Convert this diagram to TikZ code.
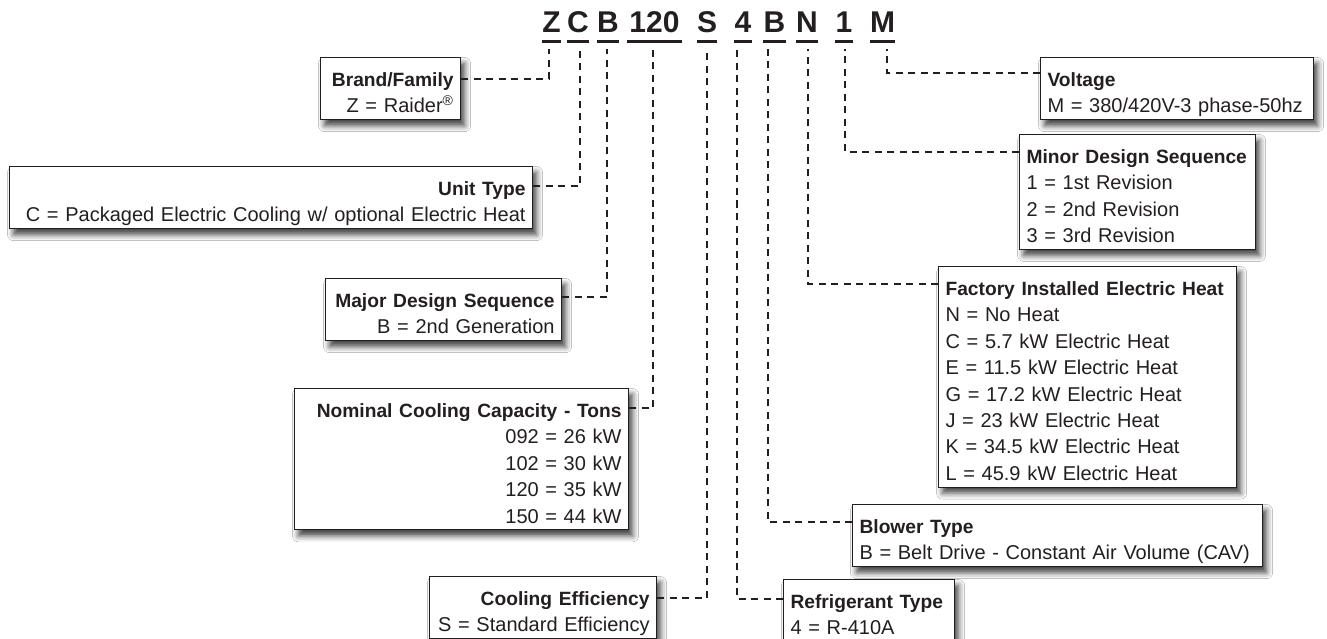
\documentclass[tikz,border=0pt]{standalone}
\usepackage{fontspec}
\setmainfont{Liberation Sans}
\usetikzlibrary{shadows.blur}
\definecolor{ink}{HTML}{231F20}
\newcommand\ttl[1]{\rule{0pt}{29pt}\mbox{\fontsize{19.2pt}{26.4pt}\selectfont\bfseries #1}}
\newcommand\lst{\rule[-6.7pt]{0pt}{0pt}}
\hyphenpenalty=10000
\begin{document}
\begin{tikzpicture}[x=1pt,y=-1pt,
  box/.style={draw=ink, line width=1.1pt, fill=white, inner xsep=7pt, inner ysep=0pt,
    anchor=north west, text=ink, font=\fontsize{20pt}{26.4pt}\selectfont,
    blur shadow={shadow xshift=4pt, shadow yshift=-6pt, shadow blur radius=6pt, shadow opacity=75}},
  conn/.style={draw=ink, line width=2.2pt, dash pattern=on 7pt off 5.5pt},
  code/.style={font=\fontsize{30pt}{30pt}\selectfont\bfseries, text=ink, inner xsep=0pt, inner ysep=0pt, anchor=base},
  uline/.style={draw=ink, line width=3pt}]
\useasboundingbox[fill=white] (0,0) rectangle (1327,639);

% code letters
\node[code, minimum width=17pt] (lZ) at (551.5,33) {Z};
\node[code, minimum width=18pt] (lC) at (578,33) {C};
\node[code, minimum width=20pt] (lB) at (608,33) {B};
\node[code, minimum width=55pt] (lT) at (654.5,33) {120};
\node[code, minimum width=20pt] (lS) at (707,33) {S};
\node[code, minimum width=18pt] (l4) at (743,33) {4};
\node[code, minimum width=19pt] (lB2) at (774.5,33) {B};
\node[code, minimum width=20pt] (lN) at (807,33) {N};
\node[code, minimum width=18pt] (l1) at (844,33) {1};
\node[code, minimum width=25pt] (lM) at (882.5,33) {M};
\coordinate (ul) at (0,42);
\foreach \n in {lZ,lC,lB,lT,lS,l4,lB2,lN,l1,lM}
  \draw[uline] (\n.west |- ul) -- (\n.east |- ul);

% column tops
\coordinate (cZ) at (549,49);
\coordinate (cC) at (580,49);
\coordinate (cB) at (607,49);
\coordinate (cT) at (653,49);
\coordinate (cS) at (707,49);
\coordinate (c4) at (737,49);
\coordinate (cB2) at (768,49);
\coordinate (cN) at (808,49);
\coordinate (c1) at (845,49);
\coordinate (cM) at (887,49);

% boxes
\node[box, text width=126pt, align=right] (brand) at (320,57)
  {\ttl{Brand/Family}\\\mbox{Z = Raider\textsuperscript{®}}\lst};
\node[box, text width=509pt, align=right] (unit) at (9,166)
  {\ttl{Unit Type}\\\mbox{C = Packaged Electric Cooling w/ optional Electric Heat}\lst};
\node[box, text width=222pt, align=right] (major) at (325,278)
  {\ttl{Major Design Sequence}\\\mbox{B = 2nd Generation}\lst};
\node[box, text width=320pt, align=right] (nom) at (294,388)
  {\ttl{Nominal Cooling Capacity - Tons}\\092 = 26 kW\\102 = 30 kW\\120 = 35 kW\\150 = 44 kW\lst};
\node[box, text width=213pt, align=right] (eff) at (429,576)
  {\ttl{Cooling Efficiency}\\\mbox{S = Standard Efficiency}\lst};
\node[box, text width=157pt, align=left] (ref) at (783,579)
  {\ttl{Refrigerant Type}\\\mbox{4 = R-410A}\lst};
\node[box, text width=396pt, align=left] (blow) at (852,504)
  {\ttl{Blower Type}\\\mbox{B = Belt Drive - Constant Air Volume (CAV)}\lst};
\node[box, text width=284pt, align=left] (heat) at (938,266)
  {\ttl{Factory Installed Electric Heat}\\N = No Heat\\\mbox{C = 5.7 kW Electric Heat}\\\mbox{E = 11.5 kW Electric Heat}\\\mbox{G = 17.2 kW Electric Heat}\\\mbox{J = 23 kW Electric Heat}\\\mbox{K = 34.5 kW Electric Heat}\\\mbox{L = 45.9 kW Electric Heat}\lst};
\node[box, text width=222pt, align=left] (minor) at (1019,134)
  {\ttl{Minor Design Sequence}\\\mbox{1 = 1st Revision}\\\mbox{2 = 2nd Revision}\\\mbox{3 = 3rd Revision}\lst};
\node[box, text width=259pt, align=left] (volt) at (1040,57)
  {\ttl{Voltage}\\\mbox{M = 380/420V-3 phase-50hz}\lst};

% connectors
\draw[conn] ([yshift=-22pt]brand.north east) -| (cZ);
\draw[conn] ([yshift=-20pt]unit.north east) -| (cC);
\draw[conn] ([yshift=-19pt]major.north east) -| (cB);
\draw[conn] ([yshift=-20pt]nom.north east) -| (cT);
\draw[conn] ([yshift=-22pt]eff.north east) -| (cS);
\draw[conn] ([yshift=-20pt]ref.north west) -| (c4);
\draw[conn] ([yshift=-18pt]blow.north west) -| (cB2);
\draw[conn] ([yshift=-18pt]heat.north west) -| (cN);
\draw[conn] ([yshift=-18pt]minor.north west) -| (c1);
\draw[conn] ([yshift=-16pt]volt.north west) -| (cM);
\end{tikzpicture}
\end{document}
